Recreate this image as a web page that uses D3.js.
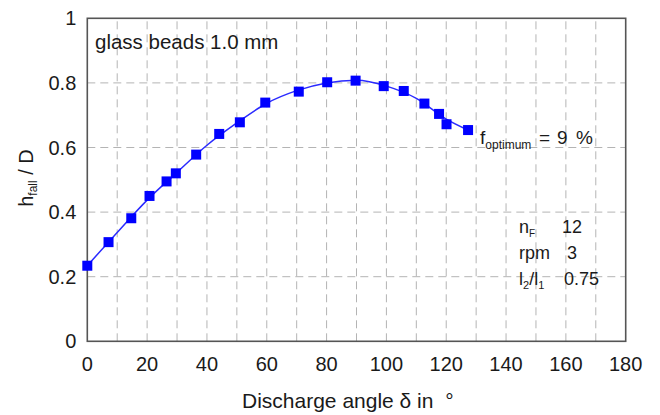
<!DOCTYPE html>
<html lang="en">
<head>
    <meta charset="UTF-8">
    <title>Fall height vs discharge angle</title>
    <script src="https://d3js.org/d3.v7.min.js"></script>
    <style>
        body { margin: 0; background: #fff; }
        text { font-family: "Liberation Sans", Arial, sans-serif; fill: #1a1a1a; }
        .grid line { stroke: #b4b4b4; stroke-width: 1; stroke-dasharray: 8 5; }
        .fit { fill: none; stroke: #2a2aff; stroke-width: 1.5px; }
        .pt { fill: #0000ff; }
        .tick-label { font-size: 20px; }
    </style>
</head>
<body>
    <div id="chart"></div>
    <script>
        // measured points (discharge angle in deg, h_fall / D)
        var angles  = [0, 7.1, 14.7, 20.8, 26.5, 29.6, 36.4, 44.1, 51, 59.5, 70.7, 80.2, 89.7, 99.1, 105.8, 112.7, 117.6, 120.1, 127.3];
        var hfall   = [0.234, 0.307, 0.381, 0.450, 0.495, 0.520, 0.578, 0.642, 0.678, 0.739, 0.773, 0.802, 0.807, 0.790, 0.775, 0.736, 0.704, 0.672, 0.654];

        // fitted curve
        var fitAngles = [0, 10, 20, 30, 40, 50, 60, 70, 80, 90, 100, 110, 120, 127.3];
        var fitValues = [0.234, 0.337, 0.437, 0.523, 0.607, 0.676, 0.737, 0.776, 0.800, 0.808, 0.790, 0.752, 0.688, 0.654];

        var xTicks = [0, 20, 40, 60, 80, 100, 120, 140, 160, 180];
        var yTicks = [0, 0.2, 0.4, 0.6, 0.8, 1];
        var xGrid = d3.range(10, 180, 10);
        var yGrid = [0.2, 0.4, 0.6, 0.8];

        var width = 660, height = 415;
        var margin = { top: 18.3, right: 34.3, bottom: 73.7, left: 87.3 };

        var svg = d3.select("#chart").append("svg")
            .attr("width", width)
            .attr("height", height);

        var x = d3.scaleLinear().domain([0, 180]).range([margin.left, width - margin.right]);
        var y = d3.scaleLinear().domain([0, 1]).range([height - margin.bottom, margin.top]);

        // grid
        var grid = svg.append("g").attr("class", "grid");
        grid.selectAll(".vg").data(xGrid).enter().append("line")
            .attr("x1", d => x(d)).attr("x2", d => x(d))
            .attr("y1", y(0)).attr("y2", y(1));
        grid.selectAll(".hg").data(yGrid).enter().append("line")
            .attr("x1", x(0)).attr("x2", x(180))
            .attr("y1", d => y(d)).attr("y2", d => y(d));

        // frame
        svg.append("rect")
            .attr("x", x(0)).attr("y", y(1))
            .attr("width", x(180) - x(0)).attr("height", y(0) - y(1))
            .attr("fill", "none").attr("stroke", "#555").attr("stroke-width", 1.6);

        // tick labels
        svg.selectAll(".xl").data(xTicks).enter().append("text")
            .attr("class", "tick-label")
            .attr("x", d => x(d)).attr("y", y(0) + 30)
            .attr("text-anchor", "middle")
            .text(d => d);
        svg.selectAll(".yl").data(yTicks).enter().append("text")
            .attr("class", "tick-label")
            .attr("x", x(0) - 11).attr("y", d => y(d) + 7)
            .attr("text-anchor", "end")
            .text(d => d);

        // axis titles
        svg.append("text")
            .attr("x", 242).attr("y", 408)
            .attr("font-size", "21px")
            .text("Discharge angle δ in  °")
            .attr("xml:space", "preserve");

        var yt = svg.append("text")
            .attr("transform", "translate(33,178) rotate(-90)")
            .attr("text-anchor", "middle")
            .attr("font-size", "20px");
        yt.append("tspan").text("h");
        yt.append("tspan").attr("font-size", "12px").attr("dy", 4).text("fall");
        yt.append("tspan").attr("dy", -4).text(" / D");

        // fit line
        var line = d3.line()
            .x(d => x(d[0]))
            .y(d => y(d[1]))
            .curve(d3.curveMonotoneX);
        svg.append("path")
            .datum(fitAngles.map((a, i) => [a, fitValues[i]]))
            .attr("class", "fit")
            .attr("d", line);

        // markers
        var s = 10;
        svg.selectAll(".pt").data(angles).enter().append("rect")
            .attr("class", "pt")
            .attr("x", d => x(d) - s / 2)
            .attr("y", (d, i) => y(hfall[i]) - s / 2)
            .attr("width", s).attr("height", s);

        // annotations
        svg.append("text")
            .attr("x", 95).attr("y", 49)
            .attr("font-size", "20.5px")
            .text("glass beads 1.0 mm");

        var fo = svg.append("text").attr("x", 480).attr("y", 143.5).attr("font-size", "19px");
        fo.append("tspan").text("f");
        fo.append("tspan").attr("font-size", "12px").attr("dy", 5).text("optimum");
        fo.append("tspan").attr("x", 539).attr("dy", -5).text("=");
        fo.append("tspan").attr("x", 557).text("9");
        fo.append("tspan").attr("x", 576).text("%");

        var p1 = svg.append("text").attr("x", 519).attr("y", 233).attr("font-size", "18px");
        p1.append("tspan").text("n");
        p1.append("tspan").attr("font-size", "10px").attr("dy", 4).text("F");
        p1.append("tspan").attr("x", 562).attr("dy", -4).text("12");

        var p2 = svg.append("text").attr("x", 519).attr("y", 259).attr("font-size", "18px");
        p2.append("tspan").text("rpm");
        p2.append("tspan").attr("x", 567).text("3");

        var p3 = svg.append("text").attr("x", 519).attr("y", 285).attr("font-size", "18px");
        p3.append("tspan").text("l");
        p3.append("tspan").attr("font-size", "11px").attr("dy", 4).text("2");
        p3.append("tspan").attr("dy", -4).text("/l");
        p3.append("tspan").attr("font-size", "11px").attr("dy", 4).text("1");
        p3.append("tspan").attr("x", 564).attr("dy", -4).text("0.75");
    </script>
</body>
</html>
